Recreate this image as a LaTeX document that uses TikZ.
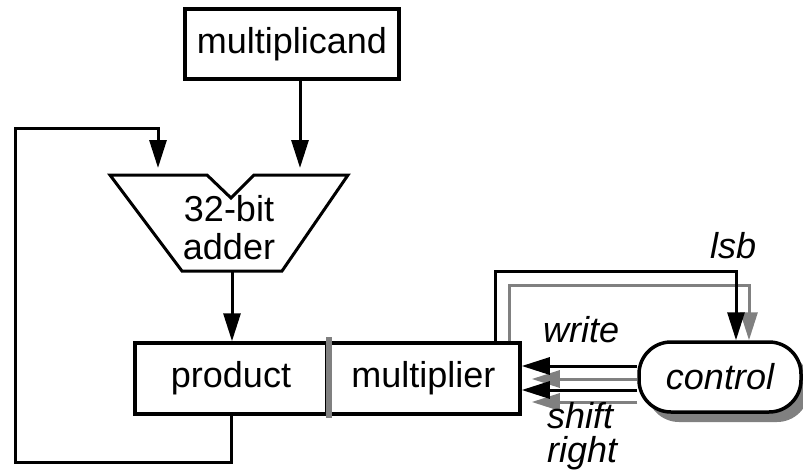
\documentclass[tikz,border=0pt]{standalone}
\usepackage{fontspec}
\setmainfont{Liberation Sans}
\usetikzlibrary{arrows.meta,shadows}
\definecolor{midgray}{gray}{0.5}
\begin{document}
\begin{tikzpicture}[x=1pt,y=-1pt,
    every node/.style={font=\fontsize{36}{38}\selectfont},
    box/.style={draw,line width=3.5pt,inner sep=0pt},
    sig/.style={line width=3pt,-{Triangle[length=28pt,width=17pt]}},
    ghost/.style={sig,draw=midgray},
    lbl/.style={inner sep=0pt,font=\fontsize{36}{34}\selectfont\itshape}]
	\useasboundingbox (0,0) rectangle (803,472);
	\node[box,minimum width=214pt,minimum height=70pt] (mcand) at (292,44) {multiplicand};
	\coordinate (a1) at (110,175);
	\coordinate (a2) at (207,175);
	\coordinate (a3) at (231,198);
	\coordinate (a4) at (254,175);
	\coordinate (a5) at (348,175);
	\coordinate (a6) at (282,271);
	\coordinate (a7) at (182,271);
	\draw[line width=3pt] (a1) -- (a2) -- (a3) -- (a4) -- (a5) -- (a6) -- (a7) -- cycle;
	\node[align=center,inner sep=0pt] (adder) at (229,228) {32-bit\\adder};
	\coordinate (in1) at (158,168);
	\coordinate (in2) at (300,168);
	\coordinate (aout) at (232,271);
	\node[box,minimum width=192pt,minimum height=71pt] (prod) at (231,378.5) {product};
	\node[box,minimum width=193pt,minimum height=71pt] (mplier) at (423.5,378.5) {multiplier};
	\draw[draw=midgray,line width=6pt] ([yshift=4pt]prod.north east) -- ([yshift=-2pt]prod.south east);
	\draw[sig] (mcand.south -| in2) -- (in2);
	\draw[sig] (aout) -- (prod.north -| aout);
	\coordinate (fb1) at (15,462);
	\coordinate (fb2) at (15,128);
	\draw[sig] (prod.south) -- (prod.south |- fb1) -- (fb1) -- (fb2) -- (fb2 -| in1) -- (in1);
	\node[draw,line width=3.5pt,fill=white,rounded corners=32pt,minimum width=162pt,minimum height=70pt,
	  drop shadow={shadow xshift=8pt,shadow yshift=-10pt,fill=midgray,opacity=1},lbl] (ctrl) at (720,377) {control};
	\coordinate (wr) at (0,366);
	\coordinate (sh) at (0,390);
	\coordinate (wrg) at (0,379);
	\coordinate (shg) at (0,402);
	\draw[ghost] (ctrl.west |- wrg) -- ([xshift=10pt]mplier.east |- wrg);
	\draw[ghost] (ctrl.west |- shg) -- ([xshift=10pt]mplier.east |- shg);
	\draw[sig] (ctrl.west |- wr) -- (mplier.east |- wr);
	\draw[sig] (ctrl.west |- sh) -- (mplier.east |- sh);
	\coordinate (lb1) at (495,271);
	\coordinate (lb2) at (736,271);
	\coordinate (lg1) at (509,285);
	\coordinate (lg2) at (749,285);
	\draw[ghost] (mplier.north -| lg1) -- (lg1) -- (lg2) -- (ctrl.north -| lg2);
	\draw[sig] (mplier.north -| lb1) -- (lb1) -- (lb2) -- (ctrl.north -| lb2);
	\node[lbl,anchor=base west] (lsb) at (710,258) {lsb};
	\node[lbl,anchor=base west] (write) at (543,342) {write};
	\node[lbl,anchor=north west,align=left] (shift) at (547,402) {shift\\right};
\end{tikzpicture}
\end{document}
